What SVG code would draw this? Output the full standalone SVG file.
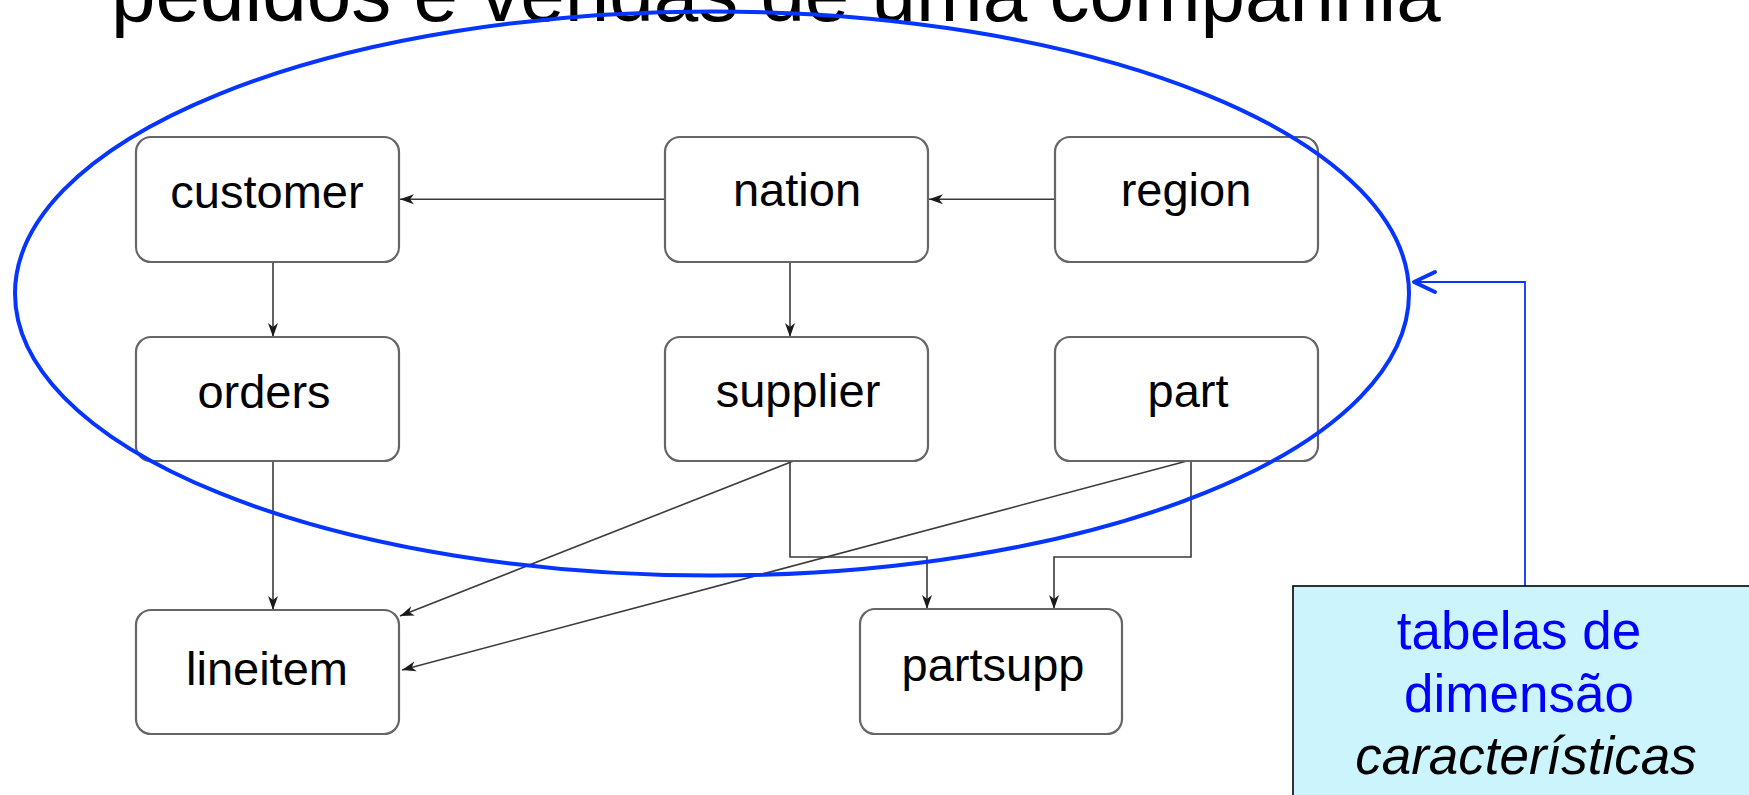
<svg xmlns="http://www.w3.org/2000/svg" width="1749" height="795" viewBox="0 0 1749 795">
  <style>
    .node rect { fill: #ffffff; stroke: #666666; stroke-width: 2.2; }
    .node text { font-family: "Liberation Sans", Arial, sans-serif; font-size: 47px; fill: #000000; text-anchor: middle; }
    .edge { fill: none; stroke: #3a3a3a; stroke-width: 1.6; marker-end: url(#arrow); }
    .title { font-family: "Liberation Sans", Arial, sans-serif; font-size: 80px; fill: #000000; }
    .note rect { fill: #ccf4fd; stroke: #000000; stroke-width: 1.6; }
    .note text { font-family: "Liberation Sans", Arial, sans-serif; font-size: 53px; text-anchor: middle; }
    .blue { fill: none; stroke: #0535ff; }
  </style>
  <defs>
    <marker id="arrow" markerUnits="userSpaceOnUse" markerWidth="20" markerHeight="14" refX="15" refY="5" orient="auto" overflow="visible">
      <path d="M15,5 L1,0 L5,5 L1,10 Z" fill="#1a1a1a"/>
    </marker>
  </defs>

  <!-- heading (partly cut by the top edge) -->
  <text class="title" x="111" y="21">pedidos e vendas de uma companhia</text>

  <!-- connectors -->
  <g id="connectors">
    <path class="edge" d="M665,199.3 L400,199.3"/>
    <path class="edge" d="M1055,199.3 L929,199.3"/>
    <path class="edge" d="M273,262 L273,337"/>
    <path class="edge" d="M790,262 L790,337"/>
    <path class="edge" d="M273,461 L273,610"/>
    <path class="edge" d="M796,460 L400,616"/>
    <path class="edge" d="M1187,461 L402,670"/>
    <path class="edge" d="M790,461 L790,557 L927,557 L927,609"/>
    <path class="edge" d="M1191,461 L1191,557 L1054,557 L1054,609"/>
  </g>

  <!-- table nodes -->
  <g id="customer" class="node">
    <rect x="136" y="137" width="263" height="125" rx="15"/>
    <text x="267" y="208">customer</text>
  </g>
  <g id="nation" class="node">
    <rect x="665" y="137" width="263" height="125" rx="15"/>
    <text x="797" y="206">nation</text>
  </g>
  <g id="region" class="node">
    <rect x="1055" y="137" width="263" height="125" rx="15"/>
    <text x="1186" y="206">region</text>
  </g>
  <g id="orders" class="node">
    <rect x="136" y="337" width="263" height="124" rx="15"/>
    <text x="264" y="408">orders</text>
  </g>
  <g id="supplier" class="node">
    <rect x="665" y="337" width="263" height="124" rx="15"/>
    <text x="798" y="407">supplier</text>
  </g>
  <g id="part" class="node">
    <rect x="1055" y="337" width="263" height="124" rx="15"/>
    <text x="1188" y="407">part</text>
  </g>
  <g id="lineitem" class="node">
    <rect x="136" y="610" width="263" height="124" rx="15"/>
    <text x="267" y="685">lineitem</text>
  </g>
  <g id="partsupp" class="node">
    <rect x="860" y="609" width="262" height="125" rx="15"/>
    <text x="993" y="681">partsupp</text>
  </g>

  <!-- highlight around the dimension tables -->
  <ellipse id="highlight" class="blue" cx="712" cy="293.5" rx="697" ry="282" stroke-width="4"/>

  <!-- callout pointing to the highlight -->
  <g id="callout-link">
    <path class="blue" d="M1525,586 L1525,282 L1414,282" stroke-width="1.8"/>
    <path class="blue" d="M1435,272 L1414,282 L1435,292" stroke-width="4" stroke-linecap="round" stroke-linejoin="round"/>
  </g>
  <g id="callout" class="note">
    <rect x="1293" y="586" width="470" height="220"/>
    <text x="1519" y="649" fill="#0000ff">tabelas de</text>
    <text x="1519" y="712" fill="#0000ff">dimensão</text>
    <text x="1526" y="774" fill="#000000" font-style="italic">características</text>
  </g>
</svg>
